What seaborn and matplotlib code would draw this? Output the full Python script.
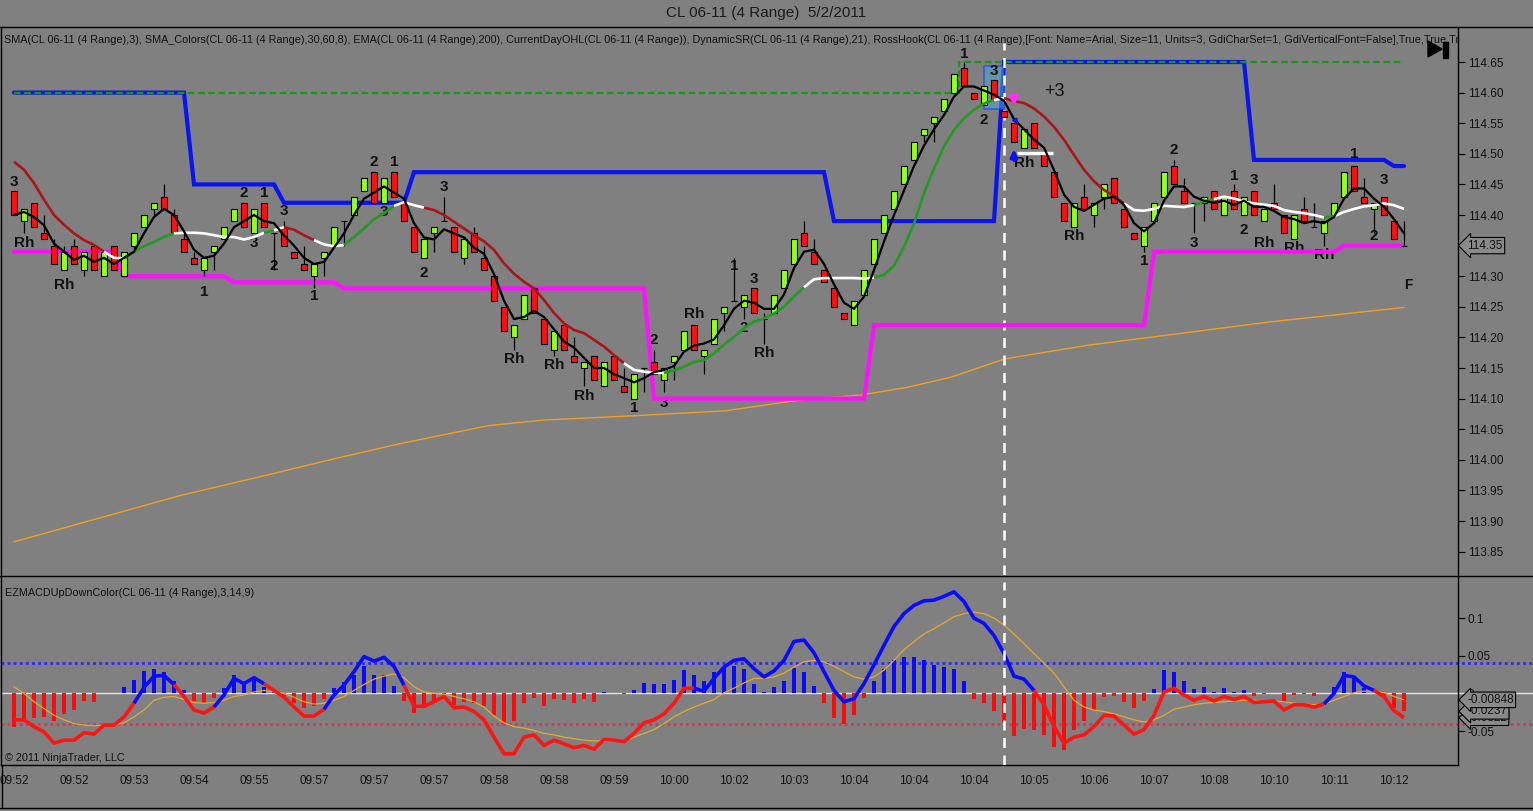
import numpy as np
import pandas as pd
import matplotlib
matplotlib.use("Agg")
import matplotlib.pyplot as plt
import seaborn as sns
from matplotlib.patches import Rectangle, Polygon
from matplotlib.lines import Line2D
from matplotlib.transforms import blended_transform_factory

sns.set_style("ticks", {"axes.facecolor": "#808080", "figure.facecolor": "#808080"})
plt.rcParams['font.family'] = ['Liberation Sans', 'DejaVu Sans']

# --- price bars (4 range) ---
opens = [114.44, 114.39, 114.42, 114.37, 114.35, 114.31, 114.35, 114.31, 114.35, 114.30,
         114.35, 114.30, 114.35, 114.38, 114.41, 114.43, 114.40, 114.36, 114.33, 114.31,
         114.34, 114.36, 114.39, 114.42, 114.37, 114.42, 114.37, 114.38, 114.34, 114.32,
         114.30, 114.33, 114.35, 114.39, 114.40, 114.44, 114.47, 114.42, 114.47, 114.42,
         114.38, 114.33, 114.37, 114.39, 114.38, 114.33, 114.37, 114.33, 114.30, 114.25,
         114.20, 114.23, 114.28, 114.23, 114.18, 114.22, 114.17, 114.15, 114.17, 114.12,
         114.17, 114.12, 114.10, 114.15, 114.16, 114.13, 114.16, 114.18, 114.22, 114.17,
         114.19, 114.24, 114.26, 114.25, 114.28, 114.23, 114.24, 114.28, 114.32, 114.37,
         114.34, 114.31, 114.28, 114.24, 114.22, 114.27, 114.32, 114.37, 114.41, 114.45,
         114.49, 114.53, 114.55, 114.57, 114.60, 114.64, 114.60, 114.58, 114.62, 114.57,
         114.55, 114.51, 114.55, 114.50, 114.47, 114.42, 114.38, 114.43, 114.40, 114.43,
         114.46, 114.41, 114.37, 114.35, 114.39, 114.43, 114.48, 114.44, 114.42, 114.42,
         114.44, 114.40, 114.44, 114.40, 114.44, 114.39, 114.42, 114.40, 114.36, 114.41,
         114.38, 114.37, 114.40, 114.43, 114.48, 114.43, 114.41, 114.43, 114.39, 114.35]
closes = [114.40, 114.41, 114.38, 114.36, 114.32, 114.34, 114.32, 114.34, 114.31, 114.34,
          114.31, 114.34, 114.37, 114.40, 114.42, 114.41, 114.37, 114.34, 114.32, 114.33,
          114.35, 114.38, 114.41, 114.38, 114.41, 114.38, 114.37, 114.35, 114.33, 114.31,
          114.32, 114.34, 114.38, 114.39, 114.43, 114.46, 114.42, 114.46, 114.43, 114.39,
          114.34, 114.36, 114.38, 114.39, 114.34, 114.36, 114.34, 114.31, 114.26, 114.21,
          114.22, 114.27, 114.24, 114.19, 114.21, 114.18, 114.16, 114.16, 114.13, 114.16,
          114.13, 114.11, 114.14, 114.15, 114.14, 114.15, 114.17, 114.21, 114.18, 114.18,
          114.23, 114.25, 114.26, 114.27, 114.24, 114.23, 114.27, 114.31, 114.36, 114.35,
          114.32, 114.29, 114.25, 114.23, 114.26, 114.31, 114.36, 114.40, 114.44, 114.48,
          114.52, 114.54, 114.56, 114.59, 114.63, 114.61, 114.59, 114.61, 114.59, 114.56,
          114.52, 114.54, 114.51, 114.48, 114.43, 114.39, 114.42, 114.41, 114.42, 114.45,
          114.42, 114.38, 114.36, 114.38, 114.42, 114.47, 114.45, 114.42, 114.42, 114.43,
          114.41, 114.43, 114.41, 114.43, 114.40, 114.41, 114.41, 114.37, 114.40, 114.39,
          114.38, 114.39, 114.42, 114.47, 114.44, 114.42, 114.42, 114.40, 114.36, 114.35]
highs = [114.44, 114.41, 114.42, 114.40, 114.36, 114.35, 114.36, 114.34, 114.35, 114.34,
         114.35, 114.34, 114.37, 114.40, 114.42, 114.45, 114.41, 114.37, 114.34, 114.33,
         114.35, 114.38, 114.41, 114.42, 114.41, 114.42, 114.37, 114.39, 114.34, 114.35,
         114.32, 114.34, 114.38, 114.39, 114.43, 114.46, 114.47, 114.46, 114.47, 114.42,
         114.38, 114.36, 114.38, 114.43, 114.38, 114.36, 114.38, 114.35, 114.30, 114.25,
         114.22, 114.27, 114.28, 114.23, 114.21, 114.22, 114.20, 114.16, 114.17, 114.16,
         114.17, 114.15, 114.14, 114.15, 114.18, 114.15, 114.17, 114.21, 114.22, 114.18,
         114.23, 114.25, 114.33, 114.27, 114.28, 114.24, 114.27, 114.31, 114.36, 114.39,
         114.36, 114.31, 114.28, 114.24, 114.26, 114.31, 114.36, 114.40, 114.44, 114.48,
         114.52, 114.54, 114.56, 114.59, 114.63, 114.65, 114.60, 114.61, 114.62, 114.57,
         114.55, 114.54, 114.55, 114.50, 114.47, 114.42, 114.42, 114.45, 114.42, 114.45,
         114.46, 114.41, 114.37, 114.38, 114.42, 114.47, 114.49, 114.46, 114.42, 114.43,
         114.44, 114.43, 114.45, 114.43, 114.44, 114.41, 114.45, 114.40, 114.40, 114.43,
         114.42, 114.39, 114.42, 114.47, 114.48, 114.46, 114.42, 114.43, 114.39, 114.39]
lows = [114.40, 114.37, 114.38, 114.36, 114.32, 114.31, 114.32, 114.30, 114.31, 114.30,
        114.31, 114.30, 114.34, 114.38, 114.40, 114.41, 114.37, 114.34, 114.32, 114.30,
        114.31, 114.36, 114.39, 114.38, 114.37, 114.38, 114.31, 114.35, 114.33, 114.31,
        114.28, 114.30, 114.35, 114.35, 114.40, 114.44, 114.42, 114.42, 114.43, 114.39,
        114.34, 114.33, 114.34, 114.39, 114.34, 114.32, 114.34, 114.31, 114.26, 114.21,
        114.18, 114.23, 114.24, 114.19, 114.17, 114.18, 114.16, 114.12, 114.13, 114.12,
        114.13, 114.11, 114.10, 114.11, 114.14, 114.11, 114.13, 114.18, 114.18, 114.14,
        114.19, 114.21, 114.26, 114.23, 114.24, 114.19, 114.24, 114.28, 114.32, 114.35,
        114.32, 114.29, 114.25, 114.23, 114.22, 114.27, 114.32, 114.37, 114.41, 114.45,
        114.49, 114.52, 114.52, 114.57, 114.60, 114.61, 114.59, 114.58, 114.59, 114.56,
        114.52, 114.51, 114.51, 114.48, 114.43, 114.39, 114.38, 114.41, 114.38, 114.41,
        114.42, 114.38, 114.36, 114.34, 114.39, 114.43, 114.45, 114.42, 114.37, 114.39,
        114.41, 114.40, 114.41, 114.40, 114.40, 114.39, 114.41, 114.37, 114.36, 114.39,
        114.38, 114.35, 114.40, 114.43, 114.44, 114.42, 114.37, 114.40, 114.36, 114.35]

# SMA_Colors line and its colour runs (r = falling, g = rising, w = flat)
sma_colors_vals = [114.487, 114.474, 114.452, 114.425, 114.400, 114.384, 114.370, 114.359, 114.351, 114.340,
                   114.330, 114.329, 114.340, 114.349, 114.356, 114.364, 114.370, 114.371, 114.371, 114.370,
                   114.367, 114.364, 114.364, 114.360, 114.364, 114.371, 114.375, 114.380, 114.376, 114.367,
                   114.359, 114.352, 114.349, 114.351, 114.364, 114.378, 114.393, 114.403, 114.415, 114.421,
                   114.416, 114.412, 114.408, 114.400, 114.389, 114.378, 114.367, 114.357, 114.343, 114.321,
                   114.304, 114.291, 114.280, 114.261, 114.240, 114.223, 114.212, 114.207, 114.196, 114.185,
                   114.171, 114.158, 114.147, 114.144, 114.142, 114.142, 114.146, 114.152, 114.160, 114.163,
                   114.174, 114.188, 114.201, 114.215, 114.226, 114.231, 114.239, 114.250, 114.267, 114.282,
                   114.295, 114.297, 114.297, 114.297, 114.297, 114.296, 114.298, 114.302, 114.317, 114.348,
                   114.386, 114.436, 114.476, 114.512, 114.539, 114.558, 114.572, 114.582, 114.588, 114.591,
                   114.586, 114.583, 114.574, 114.561, 114.544, 114.523, 114.498, 114.474, 114.455, 114.441,
                   114.431, 114.419, 114.408, 114.407, 114.410, 114.415, 114.414, 114.413, 114.416, 114.422,
                   114.426, 114.430, 114.427, 114.422, 114.419, 114.417, 114.415, 114.408, 114.405, 114.403,
                   114.400, 114.396, 114.398, 114.405, 114.410, 114.414, 114.416, 114.419, 114.416, 114.410]
sma_color_runs = [("r", 10), ("w", 2), ("g", 5), ("w", 9), ("g", 1), ("w", 1), ("r", 3), ("w", 3),
                  ("g", 5), ("w", 3), ("r", 20), ("w", 4), ("g", 14), ("w", 7), ("g", 12), ("w", 1),
                  ("r", 12), ("w", 7), ("g", 2), ("w", 11), ("g", 1), ("w", 7)]

# EMA(200) read at sparse bars
ema_bars = [0, 7.7, 16.7, 25.8, 32.1, 38.5, 47.5, 53.0, 62.0, 71.1, 78.3, 84.7, 89.2,
            93.7, 99.1, 107.3, 116.4, 125.4, 139]
ema_vals = [113.866, 113.901, 113.942, 113.977, 114.002, 114.026, 114.056, 114.065,
            114.072, 114.080, 114.097, 114.106, 114.118, 114.135, 114.165, 114.187,
            114.206, 114.225, 114.249]

# DynamicSR resistance / support levels (runs of bars)
resist_runs = [(114.60, 18), (114.45, 9), (114.42, 13), (114.47, 42), (114.39, 17),
               (114.65, 25), (114.49, 14), (114.48, 2)]
support_runs = [(114.34, 11), (114.30, 11), (114.29, 11), (114.28, 31), (114.10, 22),
                (114.22, 28), (114.34, 19), (114.35, 7)]
day_high_runs = [(114.60, 95), (114.65, 45)]

# RossHook labels: bar, price, text
ross_labels = [(0, 114.454, "3"), (1, 114.354, "Rh"), (5, 114.286, "Rh"), (19, 114.275, "1"),
               (23, 114.436, "2"), (24, 114.355, "3"), (25, 114.436, "1"), (26, 114.316, "2"),
               (27, 114.407, "3"), (30, 114.267, "1"), (36, 114.487, "2"), (37, 114.405, "3"),
               (38, 114.487, "1"), (41, 114.305, "2"), (43, 114.446, "3"), (50, 114.164, "Rh"),
               (54, 114.155, "Rh"), (57, 114.104, "Rh"), (62, 114.084, "1"), (64, 114.196, "2"),
               (65, 114.093, "3"), (68, 114.238, "Rh"), (72, 114.316, "1"), (73, 114.216, "2"),
               (74, 114.295, "3"), (75, 114.175, "Rh"), (95, 114.663, "1"), (97, 114.555, "2"),
               (98, 114.636, "3"), (101, 114.485, "Rh"), (106, 114.366, "Rh"), (113, 114.325, "1"),
               (116, 114.506, "2"), (118, 114.355, "3"), (122, 114.464, "1"), (123, 114.376, "2"),
               (124, 114.457, "3"), (125, 114.355, "Rh"), (128, 114.346, "Rh"), (131, 114.335, "Rh"),
               (134, 114.500, "1"), (136, 114.366, "2"), (137, 114.457, "3")]
hook_box = (97.0, 99.0, 114.573, 114.643)
hook_line = (100.3, 103.9, 114.502)
entry_bar = 99

# EZMACD values
macd = [-0.035, -0.035, -0.044, -0.051, -0.066, -0.062, -0.062, -0.052, -0.054, -0.042,
        -0.042, -0.031, -0.013, 0.008, 0.023, 0.024, 0.012, -0.004, -0.022, -0.026,
        -0.018, -0.002, 0.020, 0.013, 0.021, 0.013, 0.004, -0.005, -0.018, -0.030,
        -0.030, -0.021, -0.002, 0.011, 0.029, 0.049, 0.043, 0.048, 0.036, 0.011,
        -0.017, -0.017, -0.011, -0.004, -0.019, -0.018, -0.024, -0.035, -0.058, -0.080,
        -0.080, -0.058, -0.055, -0.069, -0.062, -0.067, -0.072, -0.069, -0.074, -0.061,
        -0.062, -0.064, -0.053, -0.039, -0.035, -0.027, -0.013, 0.007, 0.007, 0.003,
        0.020, 0.035, 0.044, 0.046, 0.033, 0.022, 0.030, 0.044, 0.069, 0.071,
        0.054, 0.029, 0.004, -0.011, -0.007, 0.013, 0.038, 0.064, 0.089, 0.106,
        0.117, 0.123, 0.124, 0.129, 0.135, 0.122, 0.100, 0.093, 0.077, 0.053,
        0.023, 0.019, 0.004, -0.015, -0.044, -0.066, -0.058, -0.055, -0.044, -0.029,
        -0.030, -0.042, -0.054, -0.048, -0.029, 0.002, 0.007, -0.002, -0.009, -0.004,
        -0.010, -0.004, -0.008, -0.004, -0.012, -0.011, -0.010, -0.022, -0.015, -0.015,
        -0.018, -0.014, 0.000, 0.024, 0.022, 0.010, 0.004, -0.004, -0.023, -0.0322]
signal = [0.009, 0.000, -0.011, -0.020, -0.029, -0.035, -0.040, -0.042, -0.043, -0.042,
          -0.042, -0.039, -0.031, -0.022, -0.009, -0.005, -0.004, -0.008, -0.012, -0.013,
          -0.012, -0.009, -0.004, -0.002, 0.002, 0.004, 0.002, 0.000, -0.005, -0.011,
          -0.014, -0.013, -0.009, -0.004, 0.004, 0.012, 0.019, 0.023, 0.026, 0.021,
          0.009, 0.002, 0.000, -0.001, -0.004, -0.007, -0.011, -0.018, -0.030, -0.039,
          -0.044, -0.046, -0.049, -0.053, -0.055, -0.058, -0.060, -0.062, -0.063, -0.063,
          -0.063, -0.063, -0.058, -0.053, -0.048, -0.040, -0.031, -0.024, -0.018, -0.013,
          -0.008, 0.001, 0.007, 0.014, 0.020, 0.020, 0.022, 0.027, 0.035, 0.042,
          0.044, 0.042, 0.036, 0.029, 0.022, 0.019, 0.022, 0.031, 0.044, 0.058,
          0.069, 0.079, 0.086, 0.094, 0.102, 0.106, 0.108, 0.106, 0.100, 0.091,
          0.079, 0.066, 0.053, 0.040, 0.027, 0.009, -0.009, -0.018, -0.022, -0.024,
          -0.027, -0.031, -0.035, -0.038, -0.035, -0.029, -0.021, -0.018, -0.015, -0.013,
          -0.012, -0.011, -0.010, -0.009, -0.009, -0.010, -0.010, -0.011, -0.013, -0.014,
          -0.015, -0.014, -0.009, -0.004, 0.001, 0.003, 0.003, 0.001, -0.004, -0.00848]
macd_color_runs = [("r", 13), ("b", 4), ("r", 4), ("b", 5), ("r", 6), ("b", 8), ("r", 29),
                   ("b", 34), ("r", 29), ("b", 5), ("r", 3)]

time_labels = ["09:52", "09:52", "09:53", "09:54", "09:55", "09:57", "09:57", "09:57",
               "09:58", "09:58", "09:59", "10:00", "10:02", "10:03", "10:04", "10:04",
               "10:04", "10:05", "10:06", "10:07", "10:08", "10:10", "10:11", "10:12"]


def expand(runs):
    out = []
    for v, n in runs:
        out += [v] * n
    return out


def colored_line(ax, xs, ys, codes, palette, lw, z):
    i, n = 0, len(xs)
    while i < n:
        j = i
        while j + 1 < n and codes[j + 1] == codes[i]:
            j += 1
        s = max(i - 1, 0)
        ax.plot(xs[s:j + 1], ys[s:j + 1], color=palette[codes[i]], lw=lw, zorder=z,
                solid_capstyle="butt", solid_joinstyle="round")
        i = j + 1


df = pd.DataFrame({"open": opens, "high": highs, "low": lows, "close": closes})
df["bar"] = np.arange(len(df))
df["sma3"] = df["close"].rolling(3, min_periods=1).mean()
bars = df["bar"].values

W, H = 1533, 811
fig = plt.figure(figsize=(W / 100, H / 100), dpi=100)
ax1 = fig.add_axes([1 / W, (H - 575) / H, 1457 / W, (575 - 27) / H])
ax2 = fig.add_axes([1 / W, (H - 765) / H, 1457 / W, (765 - 576) / H])
for ax in (ax1, ax2):
    ax.set_facecolor("#808080")
    ax.set_xlim(-1.3, 144.4)
    for sp in ax.spines.values():
        sp.set_color("black")
        sp.set_linewidth(1)
    ax.spines["top"].set_visible(False)
ax1.spines["bottom"].set_visible(False)
ax1.set_ylim(113.8118, 114.7072)
ax2.set_ylim(-0.095, 0.156)

# ---------- main price panel ----------
sns.lineplot(x=ema_bars, y=ema_vals, ax=ax1, color="#f0a020", lw=1.0, zorder=3,
             estimator=None, sort=False)
ax1.plot(bars, expand(resist_runs), color="#0a14f0", lw=3.0, zorder=4, solid_joinstyle="miter")
ax1.step(bars, expand(day_high_runs), where="mid", color="#139a13", lw=1.6,
         dashes=(3, 1.6), zorder=4.5)

bx0, bx1, by0, by1 = hook_box
ax1.add_patch(Rectangle((bx0, by0), bx1 - bx0, by1 - by0, facecolor="#4aa8c8", alpha=0.55,
                        edgecolor="#1030ff", lw=1.2, zorder=4.6))

for b, p, t in ross_labels:
    ax1.text(b, p, t, ha="center", va="center", fontsize=11, fontweight="bold",
             color="#111111", zorder=4.8)
ax1.plot(bars, expand(support_runs), color="#ff10ff", lw=3.0, zorder=4.9, solid_joinstyle="miter")

body_colors = np.where(df["close"] >= df["open"], "#96ff1e", "#ff1010")
ax1.vlines(bars, df["low"], df["high"], color="black", lw=0.9, zorder=5)
ax1.bar(bars, (df["close"] - df["open"]).abs(), bottom=df[["open", "close"]].min(axis=1),
        width=0.6, color=body_colors, edgecolor="black", linewidth=0.8, zorder=6)

colored_line(ax1, bars, sma_colors_vals, expand(sma_color_runs),
             {"r": "#a8161a", "g": "#239a23", "w": "#ffffff"}, 1.9, 7)
sns.lineplot(data=df, x="bar", y="sma3", ax=ax1, color="black", lw=1.6, zorder=8,
             estimator=None, sort=False)

hx0, hx1, hy = hook_line
ax1.hlines(hy, hx0, hx1, color="white", lw=2.4, zorder=7)
ax1.annotate("", xy=(100, 114.574), xytext=(100, 114.598),
             arrowprops=dict(arrowstyle="-|>", color="#ff30ff", lw=2.5, mutation_scale=11), zorder=9)
ax1.annotate("", xy=(100.5, 114.543), xytext=(100.1, 114.556),
             arrowprops=dict(arrowstyle="-|>", color="#0a14f0", lw=1.5, mutation_scale=7), zorder=9)
ax1.annotate("", xy=(100, 114.512), xytext=(100, 114.485),
             arrowprops=dict(arrowstyle="-|>", color="#0a14f0", lw=2.5, mutation_scale=10), zorder=9)
ax1.text(104, 114.601, "+3", ha="center", va="center", fontsize=13, color="#111111", zorder=9)
ax1.text(139.4, 114.286, "F", ha="center", va="center", fontsize=10, fontweight="bold",
         color="#111111", zorder=9)

ax1.axvline(entry_bar, ymax=0.97, color="white", lw=1.8, dashes=(4, 3), zorder=4.7)

ax1.set_xticks([])
ax1.yaxis.tick_right()
yt = np.round(np.arange(113.85, 114.651, 0.05), 2)
ax1.set_yticks(yt)
ax1.set_yticklabels([f"{v:.2f}" for v in yt])
ax1.tick_params(axis="y", direction="out", length=5, width=0.8, color="black",
                labelsize=8.5, labelcolor="#111111", pad=2)
ax1.set_xlabel("")
ax1.set_ylabel("")

legend_txt = ("SMA(CL 06-11 (4 Range),3), SMA_Colors(CL 06-11 (4 Range),30,60,8), "
              "EMA(CL 06-11 (4 Range),200), CurrentDayOHL(CL 06-11 (4 Range)), "
              "DynamicSR(CL 06-11 (4 Range),21), RossHook(CL 06-11 (4 Range),[Font: Name=Arial, "
              "Size=11, Units=3, GdiCharSet=1, GdiVerticalFont=False],True,True,True)")
ax1.text(0.002, 1 - 13 / 548, legend_txt, transform=ax1.transAxes, ha="left", va="center",
         fontsize=7.8, color="#111111", clip_on=True, zorder=10)

trans1 = blended_transform_factory(ax1.transAxes, ax1.transData)
ax1.text(1.0063, closes[-1], f"{closes[-1]:.2f}", transform=trans1, ha="left", va="center",
         fontsize=8.5, color="#111111", clip_on=False, zorder=12,
         bbox=dict(boxstyle="larrow,pad=0.18", fc="#8a8a8a", ec="black", lw=0.8))

# ---------- EZMACD panel ----------
hist = np.array(macd) - np.array(signal)
ax2.axhline(0, xmax=1532 / 1457, color="#e6e6e6", lw=1.0, zorder=1, clip_on=False)
ax2.axhline(0.04, xmax=1532 / 1457, color="#2a2aff", lw=2.0, ls=(0, (1, 1.2)), zorder=1,
            clip_on=False)
ax2.axhline(-0.04, xmax=1532 / 1457, color="#e0305a", lw=2.0, ls=(0, (1, 1.2)), zorder=1,
            clip_on=False)
ax2.bar(bars, hist, width=0.32, color=np.where(hist >= 0, "#0a0aff", "#ff0a0a"),
        linewidth=0, zorder=2)
sns.lineplot(x=bars, y=signal, ax=ax2, color="#e8a830", lw=0.9, zorder=3,
             estimator=None, sort=False)
colored_line(ax2, bars, macd, expand(macd_color_runs), {"r": "#ff1414", "b": "#0a0aff"}, 2.6, 4)
ax2.axvline(entry_bar, ymax=0.968, color="white", lw=1.8, dashes=(4, 3), zorder=5)

ax2.yaxis.tick_right()
ax2.set_yticks([-0.05, 0, 0.05, 0.1])
ax2.set_yticklabels(["-0.05", "0", "0.05", "0.1"])
ax2.tick_params(axis="y", direction="out", length=5, width=0.8, color="black",
                labelsize=8.5, labelcolor="#111111", pad=2)
ax2.set_xticks(np.arange(0, 140, 6))
ax2.set_xticklabels(time_labels)
ax2.tick_params(axis="x", length=0, pad=7, labelsize=8.5, labelcolor="#111111")
ax2.set_xlabel("")
ax2.set_ylabel("")

# last-value boxes, stacked as on the chart (they overlap there too)
trans2 = blended_transform_factory(ax2.transAxes, ax2.transData)
for v in [macd[-1], hist[-1], signal[-1]]:
    ax2.text(1.0063, v, f"{v:.3g}", transform=trans2, ha="left", va="center",
             fontsize=8.5, color="#111111", clip_on=False, zorder=12,
             bbox=dict(boxstyle="larrow,pad=0.15", fc="#8a8a8a", ec="black", lw=0.8))

ax2.text(4 / 1457, 0.91, "EZMACDUpDownColor(CL 06-11 (4 Range),3,14,9)", transform=ax2.transAxes,
         ha="left", va="center", fontsize=7.8, color="#111111")
ax2.text(4 / 1457, 0.035, "\u00a9 2011 NinjaTrader, LLC", transform=ax2.transAxes,
         ha="left", va="center", fontsize=7.8, color="#111111")

# ---------- frame, title, icon ----------
fig.text(0.5, 1 - 13 / H, "CL 06-11 (4 Range)  5/2/2011", ha="center", va="center",
         fontsize=11, color="#1a1a1a")
for py in (27, 576, 808):
    fig.add_artist(Line2D([0, 1], [1 - py / H, 1 - py / H], transform=fig.transFigure,
                          color="black", lw=1))
fig.add_artist(Line2D([1.5 / W, 1.5 / W], [1 - 765 / H, 1 - 808 / H], transform=fig.transFigure,
                      color="black", lw=1))
fig.add_artist(Polygon([(1428 / W, 1 - 41 / H), (1428 / W, 1 - 57 / H), (1442 / W, 1 - 49 / H)],
                       closed=True, transform=fig.transFigure, color="black", zorder=20))
fig.add_artist(Rectangle((1443 / W, 1 - 58 / H), 5 / W, 16 / H, transform=fig.transFigure,
                         color="black", zorder=20))

fig.savefig("out.png", dpi=100, facecolor="#808080")
